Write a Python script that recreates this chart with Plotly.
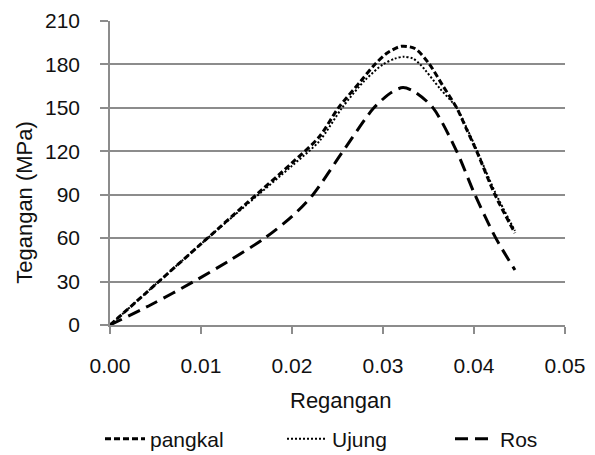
import plotly.graph_objects as go

# Data
pangkal_x = [0, 0.005, 0.010, 0.015, 0.020, 0.023, 0.0251, 0.0275, 0.0291, 0.0305, 0.0320, 0.0335, 0.0350, 0.0366, 0.0381, 0.0392, 0.0403, 0.0423, 0.0445]
pangkal_y = [0, 28, 56, 84, 112, 130, 150, 168, 180, 188, 192.5, 191, 181, 165, 150, 135, 120, 90, 63.5]

ujung_x = [0, 0.005, 0.010, 0.015, 0.020, 0.023, 0.0255, 0.0280, 0.0300, 0.0313, 0.0323, 0.0333, 0.0341, 0.0363, 0.0381, 0.0392, 0.0403, 0.0423, 0.0445]
ujung_y = [0, 28, 56, 83, 110, 127, 150, 169, 180, 184, 185.3, 184, 180, 163, 150, 136, 121, 92, 65]

ros_x = [0, 0.0045, 0.0092, 0.013, 0.017, 0.020, 0.0223, 0.0256, 0.0290, 0.0310, 0.0322, 0.0335, 0.0355, 0.0381, 0.0401, 0.0424, 0.0445]
ros_y = [0, 14, 30, 44, 60, 75, 90, 120, 150, 161, 164, 161, 150, 120, 90, 60, 38]

x_ticks = [0, 0.01, 0.02, 0.03, 0.04, 0.05]
x_tick_labels = ["0.00", "0.01", "0.02", "0.03", "0.04", "0.05"]
y_ticks = [0, 30, 60, 90, 120, 150, 180, 210]

FONT = "Liberation Sans, Arial, sans-serif"
GRID = "#8c8c8c"

fig = go.Figure()
fig.add_trace(go.Scatter(x=pangkal_x, y=pangkal_y, name="pangkal", mode="lines", legend="legend",
                         line=dict(color="black", width=3, dash="6px,3px", shape="spline", smoothing=0.8)))
fig.add_trace(go.Scatter(x=ujung_x, y=ujung_y, name="Ujung", mode="lines", legend="legend2",
                         line=dict(color="black", width=2, dash="2px,2px", shape="spline", smoothing=0.8)))
fig.add_trace(go.Scatter(x=ros_x, y=ros_y, name="Ros", mode="lines", legend="legend3",
                         line=dict(color="black", width=3, dash="13px,7px", shape="spline", smoothing=0.8)))


def leg(xpx):
    return dict(orientation="h", x=xpx / 595, xref="container", xanchor="left",
                y=(455 - 439) / 455, yref="container", yanchor="middle",
                font=dict(size=21), itemwidth=40, bgcolor="rgba(0,0,0,0)")


fig.update_layout(
    width=595, height=455,
    margin=dict(l=110, r=30, t=21, b=130, autoexpand=False),
    paper_bgcolor="white", plot_bgcolor="white",
    font=dict(family=FONT, size=21, color="#111111"),
    showlegend=True,
    legend=leg(100), legend2=leg(282), legend3=leg(450),
    xaxis=dict(range=[0, 0.05], tickvals=x_ticks, ticktext=x_tick_labels,
               showgrid=False, zeroline=False,
               showline=True, linecolor=GRID, linewidth=1.5,
               ticks="outside", ticklen=7, tickcolor=GRID, tickwidth=1.5,
               ticklabelstandoff=14),
    yaxis=dict(range=[0, 210], tickvals=y_ticks,
               showgrid=True, gridcolor=GRID, gridwidth=1.5, zeroline=False,
               showline=True, linecolor=GRID, linewidth=1.5,
               ticks="outside", ticklen=8, tickcolor=GRID, tickwidth=1.5,
               ticklabelstandoff=16),
    annotations=[
        dict(text="Tegangan (MPa)", textangle=-90, showarrow=False,
             xref="paper", yref="paper", x=-0.187, y=0.405,
             xanchor="center", yanchor="middle", font=dict(size=22)),
        dict(text="Regangan", showarrow=False,
             xref="paper", yref="paper", x=0.508, y=-0.247,
             xanchor="center", yanchor="middle", font=dict(size=22)),
    ],
)

fig.write_html("out.html", config={"displayModeBar": False},
               post_script="document.body.style.margin='0';")
